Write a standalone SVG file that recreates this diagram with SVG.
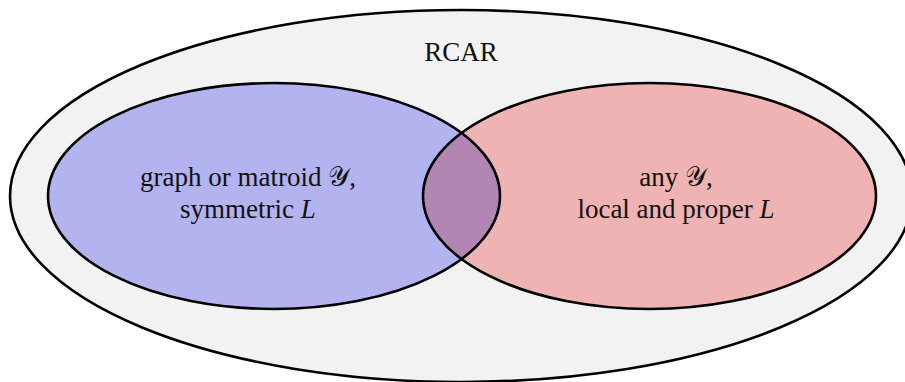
<svg xmlns="http://www.w3.org/2000/svg" width="905" height="382" viewBox="0 0 905 382">
<style>
.edge{stroke:#000;stroke-width:2.6;fill:none}
.lbl{font-family:"Liberation Serif","DejaVu Serif",serif;font-size:27px;fill:#111;text-anchor:middle}
.m{font-style:italic}
</style>
<defs>
<clipPath id="clipLeft"><ellipse cx="274" cy="196" rx="226" ry="113"/></clipPath>
</defs>
<rect width="905" height="382" fill="#ffffff"/>
<g id="rcar">
<ellipse cx="461" cy="196" rx="451" ry="186" class="edge" style="fill:#f2f2f2"/>
<text class="lbl" x="461" y="61">RCAR</text>
</g>
<g id="left-set">
<ellipse cx="274" cy="196" rx="226" ry="113" fill="#b3b3f0"/>
</g>
<g id="right-set">
<ellipse cx="649.5" cy="196" rx="226.5" ry="113" fill="#f0b3b3"/>
</g>
<g id="intersection">
<ellipse cx="649.5" cy="196" rx="226.5" ry="113" fill="#b385b3" clip-path="url(#clipLeft)"/>
</g>
<g id="outlines">
<ellipse class="edge" cx="274" cy="196" rx="226" ry="113"/>
<ellipse class="edge" cx="649.5" cy="196" rx="226.5" ry="113"/>
</g>
<g id="left-label">
<text class="lbl" x="248" y="186">graph or matroid 𝒴,</text>
<text class="lbl" x="248" y="218">symmetric <tspan class="m">L</tspan></text>
</g>
<g id="right-label">
<text class="lbl" x="676" y="186">any 𝒴,</text>
<text class="lbl" x="676" y="218">local and proper <tspan class="m">L</tspan></text>
</g>
</svg>
